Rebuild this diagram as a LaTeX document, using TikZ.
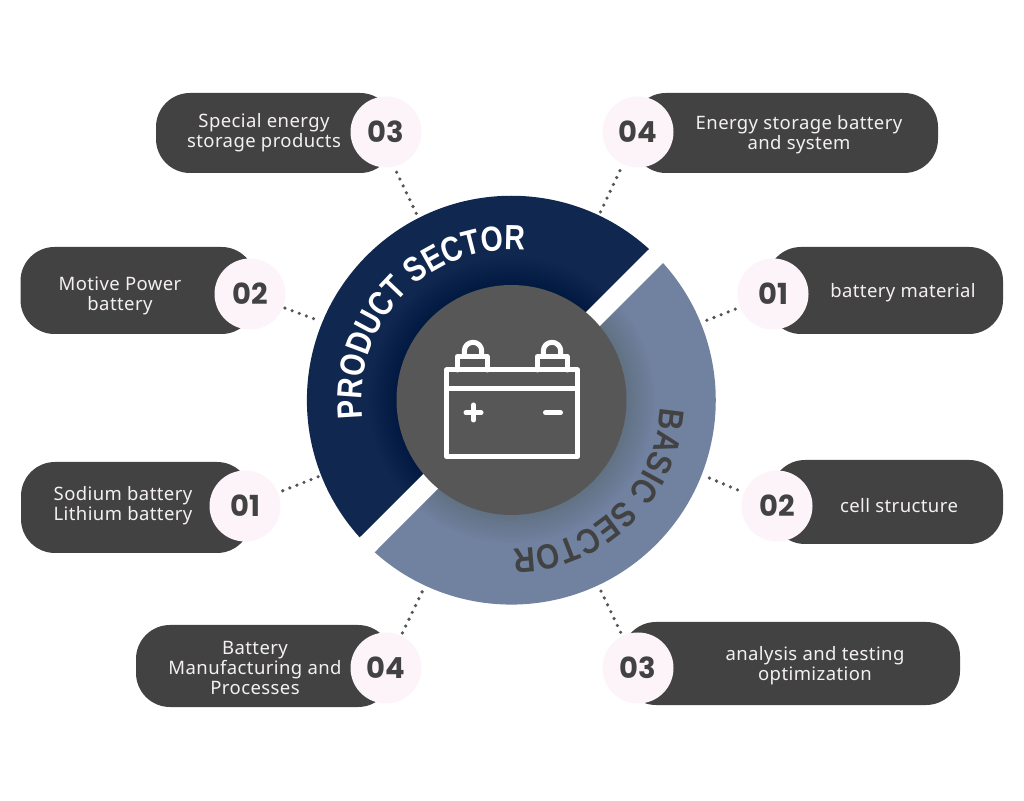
\documentclass[tikz,border=0pt]{standalone}
\usepackage{fontspec}
\usetikzlibrary{decorations.text}
\setmainfont[LetterSpace=2.2]{Noto Sans}
\newfontfamily\numfont{Poppins}
\newfontfamily\labfont[FakeStretch=0.85]{Liberation Sans}
\newfontfamily\labfontb[FakeStretch=0.815]{Liberation Sans}
\definecolor{navy}{HTML}{10284F}
\definecolor{steel}{HTML}{7082A0}
\definecolor{hubgrey}{HTML}{575757}
\definecolor{pillgrey}{HTML}{424242}
\definecolor{blush}{HTML}{FDF4F9}
\definecolor{dotgrey}{HTML}{555555}
\definecolor{paletext}{HTML}{F5F0F0}
\newcommand\numtxt[1]{\raisebox{1pt}{#1}}
\tikzset{
  pill/.style={draw=none,fill=pillgrey,rectangle,rounded corners=34pt,inner sep=0pt,minimum width=#1},
  numdisc/.style={circle,fill=blush,draw=none,minimum size=71pt,inner sep=0pt,text=pillgrey,font=\numfont\bfseries\fontsize{29}{29}\selectfont},
  pilltext/.style={text=paletext,align=center,inner sep=0pt,font=\fontsize{18.5}{20}\selectfont},
  dotline/.style={draw=dotgrey,line width=3.6pt,line cap=round,dash pattern=on 0pt off 7.6pt},
  icon/.style={draw=white,line width=5pt,line join=round,line cap=round}
}
\begin{document}
\begin{tikzpicture}[x=1pt,y=1pt]
\useasboundingbox (0,0) rectangle (1024,800);
\fill[white] (0,0) rectangle (1024,800);

% sectors
\fill[navy] (649,551) arc[start angle=47.7,end angle=222.1,radius=204.5] -- cycle;
\fill[steel] (663,537) arc[start angle=42.1,end angle=-131.9,radius=204.5] -- cycle;
\begin{scope}
\clip (649,551) arc[start angle=47.7,end angle=222.1,radius=204.5] -- cycle
      (663,537) arc[start angle=42.1,end angle=-131.9,radius=204.5] -- cycle;
\foreach \r in {117,119,...,143}{\fill[black,opacity=0.009] (511.5,400) circle[radius=\r];}
\end{scope}

% hub
\node (hub) at (511.5,400) [circle,fill=hubgrey,minimum size=230pt,inner sep=0pt] {};

% battery icon
\draw[icon] (446.5,430) rectangle (577.5,343.5);
\draw[icon] (446.5,411) -- (577.5,411);
\draw[icon] (457.5,430) -- (457.5,443.5) -- (487,443.5) -- (487,430);
\draw[icon] (464.3,443.5) -- (464.3,449) arc[start angle=180,end angle=0,radius=8.7] -- (481.7,443.5);
\draw[icon] (537.5,430) -- (537.5,443.5) -- (567,443.5) -- (567,430);
\draw[icon] (543.3,443.5) -- (543.3,449) arc[start angle=180,end angle=0,radius=8.7] -- (560.7,443.5);
\draw[icon] (466,387.3) -- (481,387.3);
\draw[icon] (473.5,380) -- (473.5,395);
\draw[icon] (545.5,387.3) -- (560.5,387.3);

% curved labels
\path[decorate,decoration={text along path,
  text={|\labfontb\bfseries\fontsize{35}{35}\selectfont\color{white}|PRODUCT SECTOR}}]
  ({511.5+150*cos(187)},{400+150*sin(187)}) arc[start angle=187,end angle=40,radius=150];
\path[decorate,decoration={text along path,
  text={|\labfont\bfseries\fontsize{35}{35}\selectfont\color{pillgrey}|BASIC SECTOR}}]
  ({511.5+149*cos(-3)},{400+149*sin(-3)}) arc[start angle=-3,end angle=-150,radius=149];

% pills
\node (p1) [pill=238pt,minimum height=80pt] at (275,667) {};
\node (p2) [pill=235pt,minimum height=87pt] at (138,509.5) {};
\node (p3) [pill=230pt,minimum height=91pt] at (136,292.5) {};
\node (p4) [pill=256pt,minimum height=82pt] at (264,134) {};
\node (p5) [pill=306pt,minimum height=80pt] at (785,667) {};
\node (p6) [pill=236pt,minimum height=87pt] at (885,509.5) {};
\node (p7) [pill=232pt,minimum height=84pt] at (887,298) {};
\node (p8) [pill=338pt,minimum height=83pt] at (791,136.5) {};

% ring anchor coordinates
\coordinate (r1) at (418,583);
\coordinate (r2) at (320,479);
\coordinate (r3) at (320,324);
\coordinate (r4) at (423,210);
\coordinate (r5) at (600,587);
\coordinate (r6) at (705,479);
\coordinate (r7) at (707,323);
\coordinate (r8) at (600,211);

% number discs
\node (c1) [numdisc] at (386,668) {\numtxt{03}};
\node (c2) [numdisc] at (250,506) {\numtxt{02}};
\node (c3) [numdisc] at (245,294) {\numtxt{01}};
\node (c4) [numdisc] at (386,132) {\numtxt{04}};
\node (c5) [numdisc] at (638,668) {\numtxt{04}};
\node (c6) [numdisc] at (773,506) {\numtxt{01}};
\node (c7) [numdisc] at (777,294) {\numtxt{02}};
\node (c8) [numdisc] at (638,132) {\numtxt{03}};

% connectors
\draw[dotline,shorten <=6pt] (c1.-77) -- (r1);
\draw[dotline,shorten <=2pt] (c2.-22) -- (r2);
\draw[dotline,shorten <=5pt] (c3.22) -- (r3);
\draw[dotline,shorten <=3pt] (c4.65) -- (r4);
\draw[dotline,shorten <=7pt] (c5.-115) -- (r5);
\draw[dotline,shorten <=5pt] (c6.-158) -- (r6);
\draw[dotline,shorten <=7pt] (c7.158) -- (r7);
\draw[dotline,shorten <=4pt] (c8.116) -- (r8);

% texts
\node (t1) [pilltext] at (264,667) {Special energy\\storage products};
\node (t2) [pilltext] at (120,504) {Motive Power\\battery};
\node (t3) [pilltext] at (123,294) {Sodium battery\\Lithium battery};
\node (t4) [pilltext] at (255,132) {Battery\\Manufacturing and\\Processes};
\node (t5) [pilltext] at (799,665) {Energy storage battery\\and system};
\node (t6) [pilltext] at (903,507) {battery material};
\node (t7) [pilltext] at (899,294) {cell structure};
\node (t8) [pilltext] at (815,134) {analysis and testing\\optimization};
\end{tikzpicture}
\end{document}
